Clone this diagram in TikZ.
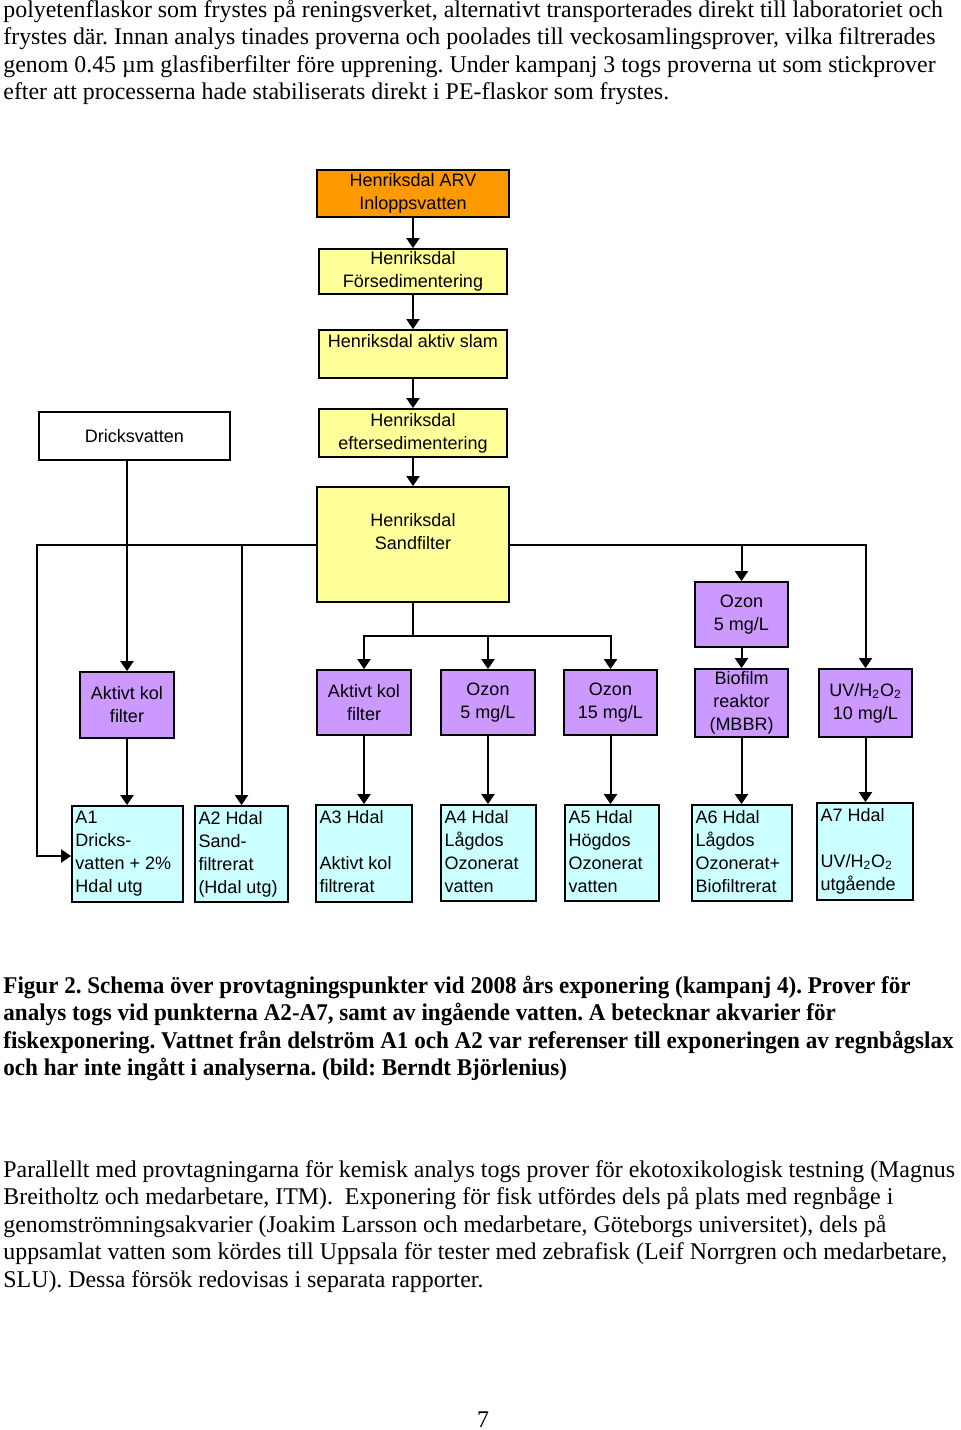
\documentclass[tikz,border=0pt]{standalone}
\usepackage{fontspec}
\setmainfont{Liberation Serif}[FakeStretch=0.995]
\newfontfamily\capfont{Liberation Serif}[FakeStretch=0.962]
\newfontfamily\arial{Liberation Sans}
\usetikzlibrary{arrows.meta}
\definecolor{orng}{RGB}{255,153,0}
\definecolor{yel}{RGB}{255,255,153}
\definecolor{purp}{RGB}{204,153,255}
\definecolor{cyanl}{RGB}{204,255,255}
\newcommand\sfnt{\arial\fontsize{9pt}{11.5pt}\selectfont}
\newcommand\bfnt{\frenchspacing\fontsize{12pt}{13.8pt}\selectfont}
\newcommand\bx[7]{\node[box,#6,minimum width={(#4-#2)*0.5pt},minimum height={(#5-#3)*0.5pt}] (#1) at ({(#2+#4)/2},{(#3+#5)/2}) {#7};}
\begin{document}
\begin{tikzpicture}[x=0.5pt,y=-0.5pt,
  box/.style={draw=black, line width=0.9pt, inner sep=0pt, align=center, font=\sfnt},
  txt/.style={inner sep=0pt, align=center, font=\sfnt},
  atext/.style={inner sep=0pt, align=left, anchor=north west, font=\sfnt},
  body/.style={inner sep=0pt, anchor=base west, font=\bfnt},
  bodyb/.style={inner sep=0pt, anchor=base west, font=\capfont\bfnt\bfseries},
  ln/.style={line width=1pt},
  arr/.style={line width=1pt, -{Triangle[length=5pt,width=6.5pt]}}]
\fill[white] (0,0) rectangle (960,1430);
\useasboundingbox (0,0) rectangle (960,1430);

% top paragraph
\node[body] (t1) at (3,17) {polyetenflaskor som frystes på reningsverket, alternativt transporterades direkt till laboratoriet och};
\node[body] (t2) at (3,44.5) {frystes där. Innan analys tinades proverna och poolades till veckosamlingsprover, vilka filtrerades};
\node[body] (t3) at (3,72) {genom 0.45 µm glasfiberfilter före upprening. Under kampanj 3 togs proverna ut som stickprover};
\node[body] (t4) at (3,99.5) {efter att processerna hade stabiliserats direkt i PE-flaskor som frystes.};

% boxes
\bx{arv}{317}{170}{509}{217}{fill=orng}{Henriksdal ARV\\Inloppsvatten}
\bx{fors}{319}{249}{507}{294}{fill=yel}{Henriksdal\\Försedimentering}
\bx{slam}{319}{330}{507}{378}{fill=yel}{}
\node[txt] (slamt) at (413,341) {Henriksdal aktiv slam};
\bx{efter}{319}{409}{507}{457}{fill=yel}{Henriksdal\\eftersedimentering}
\bx{dricks}{39}{412}{230}{460}{fill=white}{Dricksvatten}
\bx{sand}{317}{487}{509}{602}{fill=yel}{}
\node[txt] (sandt) at (413,531.5) {Henriksdal\\Sandfilter};
\bx{akf1}{80}{672}{174}{738}{fill=purp}{Aktivt kol\\filter}
\bx{akf2}{317}{670}{411}{735}{fill=purp}{Aktivt kol\\filter}
\bx{oz5}{441}{670}{535}{735}{fill=purp}{Ozon\\5 mg/L}
\bx{oz15}{564}{670}{657}{735}{fill=purp}{Ozon\\15 mg/L}
\bx{ozu}{695}{582}{788}{647}{fill=purp}{Ozon\\5 mg/L}
\bx{bio}{695}{669}{788}{737}{fill=purp}{Biofilm\\reaktor\\(MBBR)}
\bx{uv}{819}{669}{912}{737}{fill=purp}{UV/H\textsubscript{2}O\textsubscript{2}\\10 mg/L}

\bx{a1}{72}{806}{183}{902}{fill=cyanl}{}
\bx{a2}{195}{806}{288}{902}{fill=cyanl}{}
\bx{a3}{316}{805}{412}{902}{fill=cyanl}{}
\bx{a4}{441}{805}{536}{901}{fill=cyanl}{}
\bx{a5}{565}{805}{659}{901}{fill=cyanl}{}
\bx{a6}{692}{805}{792}{901}{fill=cyanl}{}
\bx{a7}{817}{803}{913}{900}{fill=cyanl}{}
\node[atext] (a1t) at ([shift={(4,5.5)}]a1.north west) {A1\\Dricks-\\vatten + 2\%\\Hdal utg};
\node[atext] (a2t) at ([shift={(4,5.5)}]a2.north west) {A2 Hdal\\Sand-\\filtrerat\\(Hdal utg)};
\node[atext] (a3t) at ([shift={(4,5.5)}]a3.north west) {A3 Hdal\\\mbox{}\\Aktivt kol\\filtrerat};
\node[atext] (a4t) at ([shift={(4,5.5)}]a4.north west) {A4 Hdal\\Lågdos\\Ozonerat\\vatten};
\node[atext] (a5t) at ([shift={(4,5.5)}]a5.north west) {A5 Hdal\\Högdos\\Ozonerat\\vatten};
\node[atext] (a6t) at ([shift={(4,5.5)}]a6.north west) {A6 Hdal\\Lågdos\\Ozonerat+\\Biofiltrerat};
\node[atext] (a7t) at ([shift={(4,5.5)}]a7.north west) {A7 Hdal\\\mbox{}\\UV/H\textsubscript{2}O\textsubscript{2}\\utgående};

% connectors
\draw[arr] (arv.south) -- (fors.north);
\draw[arr] (fors.south) -- (fors.south |- slam.north);
\draw[arr] (slam.south) -- (efter.north);
\draw[arr] (efter.south) -- (efter.south |- sand.north);
\draw[arr] (akf1.north |- dricks.south) -- (akf1.north);
\coordinate (lc) at (37,856);
\draw[arr] (sand.west) -| (lc) -- (a1.west |- lc);
\draw[arr] (a2.north |- sand.west) -- (a2.north);
\coordinate (j) at (413,636);
\draw[ln] (sand.south) -- (j);
\draw[arr] (j) -| (akf2.north);
\draw[arr] (j) -| (oz15.north);
\draw[arr] (oz5.north |- j) -- (oz5.north);
\draw[arr] (sand.east) -| (uv.north);
\draw[arr] (ozu.north |- sand.east) -- (ozu.north);
\draw[arr] (ozu.south) -- (ozu.south |- bio.north);
\draw[arr] (akf1.south) -- (akf1.south |- a1.north);
\draw[arr] (akf2.south) -- (akf2.south |- a3.north);
\draw[arr] (oz5.south) -- (oz5.south |- a4.north);
\draw[arr] (oz15.south) -- (oz15.south |- a5.north);
\draw[arr] (bio.south) -- (bio.south |- a6.north);
\draw[arr] (uv.south) -- (uv.south |- a7.north);

% caption
\node[bodyb] (c1) at (3,993) {Figur 2. Schema över provtagningspunkter vid 2008 års exponering (kampanj 4). Prover för};
\node[bodyb] (c2) at (3,1020.5) {analys togs vid punkterna A2-A7, samt av ingående vatten. A betecknar akvarier för};
\node[bodyb] (c3) at (3,1048) {fiskexponering. Vattnet från delström A1 och A2 var referenser till exponeringen av regnbågslax};
\node[bodyb] (c4) at (3,1075.5) {och har inte ingått i analyserna. (bild: Berndt Björlenius)};

% bottom paragraph
\node[body] (b1) at (3,1177) {Parallellt med provtagningarna för kemisk analys togs prover för ekotoxikologisk testning (Magnus};
\node[body] (b2) at (3,1204.5) {Breitholtz och medarbetare, ITM). \ Exponering för fisk utfördes dels på plats med regnbåge i};
\node[body] (b3) at (3,1232) {genomströmningsakvarier (Joakim Larsson och medarbetare, Göteborgs universitet), dels på};
\node[body] (b4) at (3,1259.5) {uppsamlat vatten som kördes till Uppsala för tester med zebrafisk (Leif Norrgren och medarbetare,};
\node[body] (b5) at (3,1287) {SLU). Dessa försök redovisas i separata rapporter.};

\node[inner sep=0pt, anchor=base, font=\bfnt] (pg) at (483,1427) {7};
\end{tikzpicture}
\end{document}
